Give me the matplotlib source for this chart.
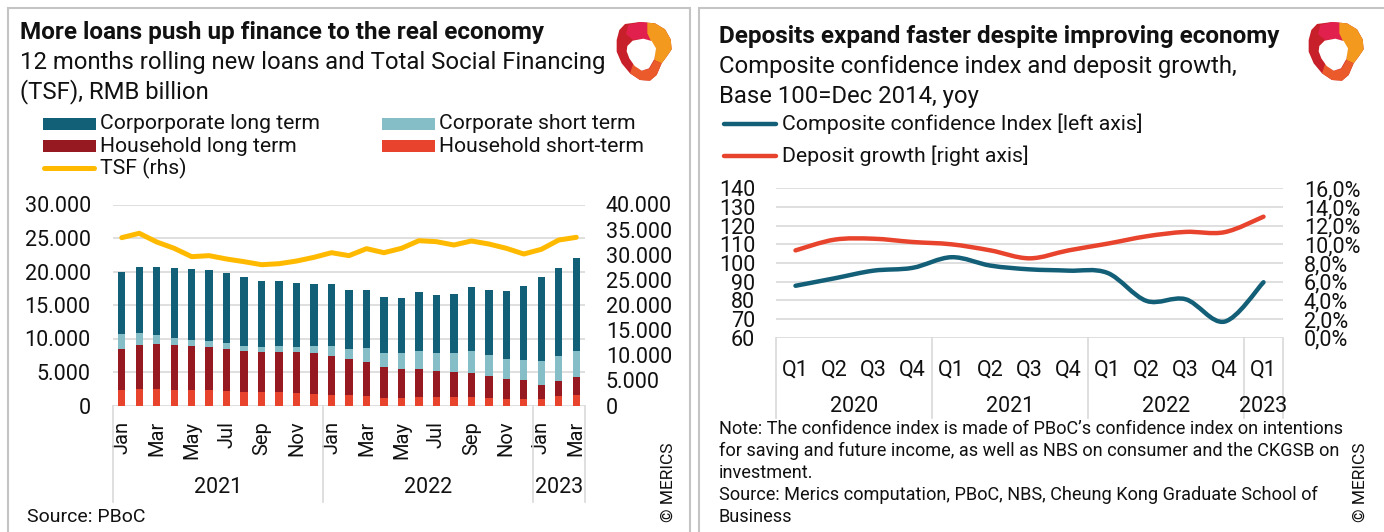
import matplotlib
matplotlib.use("Agg")
import matplotlib.pyplot as plt
import numpy as np
from matplotlib import font_manager
from matplotlib.path import Path
from matplotlib.patches import PathPatch, Rectangle, Polygon
from matplotlib.lines import Line2D
import matplotlib.transforms as mtransforms

# ---------------- data: left chart ----------------
months = ["Jan", "Feb", "Mar", "Apr", "May", "Jun", "Jul", "Aug", "Sep", "Oct", "Nov", "Dec",
          "Jan", "Feb", "Mar", "Apr", "May", "Jun", "Jul", "Aug", "Sep", "Oct", "Nov", "Dec",
          "Jan", "Feb", "Mar"]
years_left = ["2021", "2022", "2023"]
year_groups_left = [12, 12, 3]

household_short = [2310, 2460, 2460, 2310, 2310, 2310, 2210, 2010, 2010, 2010, 1920, 1770,
                   1570, 1570, 1420, 1120, 1120, 1270, 1220, 1270, 1270, 1120, 1020, 1020,
                   1020, 1420, 1570]
household_long = [6120, 6520, 6720, 6720, 6620, 6470, 6270, 6170, 6020, 6020, 6110, 6060,
                  5870, 5370, 5120, 4630, 4330, 4180, 3930, 3780, 3630, 3330, 2940, 2740,
                  2090, 2290, 2630]
corporate_short = [2240, 1840, 1290, 1090, 900, 850, 800, 750, 750, 850, 750, 1000,
                   1390, 1490, 2040, 2090, 2390, 2680, 2690, 2740, 3230, 3040, 2980, 3030,
                   3580, 3730, 3980]
corporate_long = [9210, 9850, 10200, 10350, 10490, 10590, 10450, 10250, 9850, 9650, 9450, 9250,
                  9250, 8760, 8660, 8300, 8200, 8860, 8650, 8900, 9560, 9800, 10200, 11100,
                  12490, 13080, 13840]
tsf = [33400, 34270, 32540, 31280, 29620, 29820, 29150, 28620, 28020, 28220, 28750, 29490,
       30410, 29820, 31210, 30410, 31280, 32800, 32600, 31940, 32740, 32140, 31280, 30150,
       31080, 32930, 33470]

# ---------------- data: right chart ----------------
quarters = ["Q1", "Q2", "Q3", "Q4", "Q1", "Q2", "Q3", "Q4", "Q1", "Q2", "Q3", "Q4", "Q1"]
years_right = ["2020", "2021", "2022", "2023"]
year_groups_right = [4, 4, 4, 1]
confidence = [87.8, 91.8, 95.9, 97.4, 103.1, 98.6, 96.6, 95.9, 94.7, 79.7, 80.6, 68.6, 89.7]
deposit_growth = [9.35, 10.5, 10.6, 10.25, 10.0, 9.35, 8.5, 9.35, 10.07, 10.86, 11.33, 11.3, 12.96]

# ---------------- styling ----------------
avail = {f.name for f in font_manager.fontManager.ttflist}
FONT = "DejaVu Sans"
for cand in ["Roboto", "Lato", "Open Sans"]:
    if cand in avail:
        FONT = cand
        break
plt.rcParams['font.family'] = [FONT, 'DejaVu Sans']

C_CL = "#125F78"
C_CS = "#86BEC7"
C_HL = "#961820"
C_HS = "#E8432C"
C_TSF = "#FFBA00"
C_CONF = "#135F77"
C_DEP = "#E8432C"
GRID = "#D9D9D9"
TXT = "#111111"

W, H = 1384, 532
fig = plt.figure(figsize=(W / 100, H / 100), dpi=100)


def fx(px):
    return px / W


def fy(py):
    return 1 - py / H


def T(x, y, s, **kw):
    kw.setdefault("color", TXT)
    kw.setdefault("va", "center")
    return fig.text(fx(x), fy(y), s, **kw)


# panel borders
for x0, x1 in [(8, 690), (699, 1392)]:
    fig.patches.append(Rectangle((fx(x0), fy(600)), fx(x1) - fx(x0), fy(8) - fy(600),
                                 transform=fig.transFigure, fill=False, ec="#C4C4C4", lw=1.5))

# ---------------- titles ----------------
T(20, 33, "More loans push up finance to the real economy", fontsize=17.5, weight="bold")
T(20, 63, "12 months rolling new loans and Total Social Financing", fontsize=17.2)
T(20, 92, "(TSF), RMB billion", fontsize=17.2)
T(719, 37, "Deposits expand faster despite improving economy", fontsize=17.5, weight="bold")
T(719, 67, "Composite confidence index and deposit growth,", fontsize=17.2)
T(719, 97, "Base 100=Dec 2014, yoy", fontsize=17.2)

# ---------------- left legend ----------------
def leg_patch(x0, y, color, label):
    fig.patches.append(Rectangle((fx(x0), fy(y + 6)), fx(53), 12 / H, transform=fig.transFigure,
                                 color=color, lw=0))
    T(x0 + 57, y, label, fontsize=15.2)


leg_patch(43, 124, C_CL, "Corporporate long term")
leg_patch(382, 124, C_CS, "Corporate short term")
leg_patch(43, 146, C_HL, "Household long term")
leg_patch(382, 146, C_HS, "Household short-term")
fig.lines.append(Line2D([fx(44), fx(94)], [fy(168), fy(168)], transform=fig.transFigure,
                        color=C_TSF, lw=3.6, solid_capstyle="round"))
T(100, 168, "TSF (rhs)", fontsize=15.2)

# right legend
fig.lines.append(Line2D([fx(724), fx(776)], [fy(124), fy(124)], transform=fig.transFigure,
                        color=C_CONF, lw=3.2, solid_capstyle="round"))
T(782, 124, "Composite confidence Index [left axis]", fontsize=15.3)
fig.lines.append(Line2D([fx(724), fx(776)], [fy(156), fy(156)], transform=fig.transFigure,
                        color=C_DEP, lw=3.2, solid_capstyle="round"))
T(782, 156, "Deposit growth [right axis]", fontsize=15.3)

# ---------------- left chart ----------------
ax1 = fig.add_axes([fx(113), fy(405.5), fx(585) - fx(113), fy(204.5) - fy(405.5)])
x = np.arange(len(months))
bw = 0.42
b = np.zeros(len(months))
for vals, col in [(household_short, C_HS), (household_long, C_HL),
                  (corporate_short, C_CS), (corporate_long, C_CL)]:
    ax1.bar(x, vals, bw, bottom=b, color=col, lw=0, zorder=3)
    b = b + np.array(vals)
ax1.set_xlim(-0.5, len(months) - 0.5)
ax1.set_ylim(0, 30000)
ax1.set_yticks(np.arange(0, 30001, 5000))
ax1.set_yticklabels([f"{v:,}".replace(",", ".") for v in range(0, 30001, 5000)])
ax1.yaxis.grid(True, color=GRID, lw=1.2)
ax1.set_axisbelow(True)
for s in ax1.spines.values():
    s.set_visible(False)
ax1.tick_params(axis="y", length=0, pad=16, labelsize=15.5, labelcolor=TXT)
ax1.set_xticks(x[::2])
ax1.set_xticklabels(months[::2], rotation=90)
ax1.tick_params(axis="x", length=0, pad=11, labelsize=14.5, labelcolor=TXT)

ax1b = ax1.twinx()
ax1b.plot(x, tsf, color=C_TSF, lw=3.6, solid_joinstyle="round", solid_capstyle="round", zorder=4)
ax1b.set_ylim(0, 40000)
ax1b.set_yticks(np.arange(0, 40001, 5000))
ax1b.set_yticklabels([f"{v:,}".replace(",", ".") for v in range(0, 40001, 5000)])
for s in ax1b.spines.values():
    s.set_visible(False)
ax1b.tick_params(axis="y", length=0, pad=15, labelsize=15.5, labelcolor=TXT)

trans1 = mtransforms.blended_transform_factory(ax1.transData, ax1.transAxes)
ybot1 = -(502 - 405.5) / 201
start = 0
bounds = [-0.5]
for yr, n in zip(years_left, year_groups_left):
    ax1.text(start + (n - 1) / 2, -(488 - 405.5) / 201, yr, transform=trans1, ha="center",
             va="center", fontsize=15.5, color=TXT)
    start += n
    bounds.append(start - 0.5)
for bx in bounds:
    ax1.add_line(Line2D([bx, bx], [0, ybot1], transform=trans1, color=GRID, lw=1.2, clip_on=False))

# ---------------- right chart ----------------
ax2 = fig.add_axes([fx(776), fy(337.7), fx(1283) - fx(776), fy(188.3) - fy(337.7)])
xq = np.arange(len(quarters))


def smooth_path(xs, ys):
    pts = list(zip(xs, ys))
    n = len(pts)
    verts = [pts[0]]
    codes = [Path.MOVETO]
    for i in range(n - 1):
        p0 = pts[i - 1] if i > 0 else pts[i]
        p1 = pts[i]
        p2 = pts[i + 1]
        p3 = pts[i + 2] if i + 2 < n else pts[i + 1]
        c1 = (p1[0] + (p2[0] - p0[0]) / 6, p1[1] + (p2[1] - p0[1]) / 6)
        c2 = (p2[0] - (p3[0] - p1[0]) / 6, p2[1] - (p3[1] - p1[1]) / 6)
        verts += [c1, c2, p2]
        codes += [Path.CURVE4] * 3
    return Path(verts, codes)


ax2.set_xlim(-0.5, len(quarters) - 0.5)
ax2.set_ylim(60, 140)
ax2.set_yticks(np.arange(60, 141, 10))
ax2.yaxis.grid(True, color=GRID, lw=1.2)
ax2.set_axisbelow(True)
for s in ax2.spines.values():
    s.set_visible(False)
ax2.tick_params(axis="y", length=0, pad=15, labelsize=15.5, labelcolor=TXT)
ax2.set_xticks(xq)
ax2.set_xticklabels(quarters)
ax2.tick_params(axis="x", length=0, pad=16, labelsize=15.5, labelcolor=TXT)

ax2b = ax2.twinx()
ax2b.set_ylim(0, 16)
ax2b.set_yticks(np.arange(0, 16.1, 2))
ax2b.set_yticklabels([f"{v:.1f}%".replace(".", ",") for v in np.arange(0, 16.1, 2)])
for s in ax2b.spines.values():
    s.set_visible(False)
ax2b.tick_params(axis="y", length=0, pad=15, labelsize=15.5, labelcolor=TXT)

ax2.add_patch(PathPatch(smooth_path(xq, confidence), fill=False, ec=C_CONF, lw=3.2,
                        capstyle="round", joinstyle="round", zorder=3))
ax2b.add_patch(PathPatch(smooth_path(xq, deposit_growth), fill=False, ec=C_DEP, lw=3.2,
                         capstyle="round", joinstyle="round", zorder=3))

trans2 = mtransforms.blended_transform_factory(ax2.transData, ax2.transAxes)
hh = 337.7 - 188.3
ybot2 = -(418 - 337.7) / hh
start = 0
bounds = [-0.5]
for yr, n in zip(years_right, year_groups_right):
    ax2.text(start + (n - 1) / 2, -(406 - 337.7) / hh, yr, transform=trans2, ha="center",
             va="center", fontsize=15.5, color=TXT)
    start += n
    bounds.append(start - 0.5)
for bx in bounds:
    ax2.add_line(Line2D([bx, bx], [0, ybot2], transform=trans2, color=GRID, lw=1.2, clip_on=False))

# ---------------- notes / sources ----------------
T(27, 517, "Source: PBoC", fontsize=14)
T(668, 482, "© MERICS", fontsize=12.5, rotation=90, ha="center")
notes = ["Note: The confidence index is made of PBoC\u2019s confidence index on intentions",
         "for saving and future income, as well as NBS on consumer and the CKGSB on",
         "investment.",
         "Source: Merics computation, PBoC, NBS, Cheung Kong Graduate School of",
         "Business"]
for i, line in enumerate(notes):
    T(719, 429 + i * 22, line, fontsize=13.1)
T(1360, 482, "© MERICS", fontsize=12.5, rotation=90, ha="center")

# ---------------- logos ----------------
outer = [(58, 60), (75, 42), (120, 36), (165, 40), (195, 58), (212, 88), (215, 118), (200, 140),
         (185, 160), (170, 195), (150, 212), (120, 210), (90, 190), (65, 160), (50, 125), (50, 90)]
orange = [(140, 38), (165, 40), (195, 58), (212, 88), (215, 118), (200, 140), (185, 160),
          (163, 150), (165, 115), (152, 92), (140, 70)]
pink = [(85, 45), (120, 36), (142, 38), (142, 70), (152, 92), (125, 86), (100, 90), (78, 72)]
bottom = [(185, 160), (170, 195), (150, 212), (120, 210), (90, 190), (100, 160), (125, 182),
          (148, 176), (163, 150)]
hole = [(82, 108), (98, 92), (130, 86), (155, 93), (168, 115), (163, 147), (147, 175),
        (125, 182), (104, 168), (88, 145), (80, 124)]
for ox in (600, 1292):
    lax = fig.add_axes([fx(ox), fy(90), 80 / W, 80 / H])
    lax.set_xlim(0, 240)
    lax.set_ylim(240, 0)
    lax.axis("off")
    lax.add_patch(Polygon(outer, closed=True, color="#C8202A", lw=0))
    lax.add_patch(Polygon(orange, closed=True, color="#F39A1E", lw=0))
    lax.add_patch(Polygon(pink, closed=True, color="#E2204E", lw=0))
    lax.add_patch(Polygon(bottom, closed=True, color="#EA5A2A", lw=0))
    lax.add_patch(Polygon(hole, closed=True, color="white", lw=0))

fig.savefig("out.png", dpi=100)
